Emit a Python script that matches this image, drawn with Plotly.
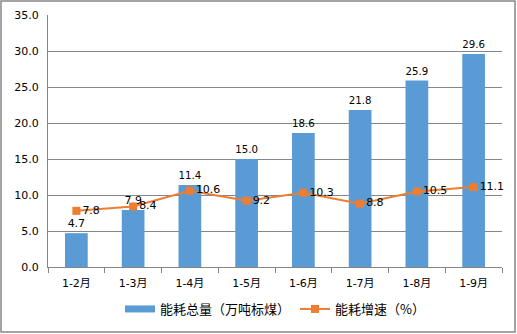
import plotly.graph_objects as go

categories = ["1-2月", "1-3月", "1-4月", "1-5月", "1-6月", "1-7月", "1-8月", "1-9月"]
total = [4.7, 7.9, 11.4, 15.0, 18.6, 21.8, 25.9, 29.6]
growth = [7.8, 8.4, 10.6, 9.2, 10.3, 8.8, 10.5, 11.1]
y_ticks = [0, 5, 10, 15, 20, 25, 30, 35]

FONT = "DejaVu Sans, Noto Sans CJK SC, sans-serif"
BLUE = "#5B9BD5"
ORANGE = "#ED7D31"

fig = go.Figure()
fig.add_trace(go.Bar(
    x=categories, y=total, name="能耗总量（万吨标煤）", showlegend=False,
    marker=dict(color=BLUE, line=dict(width=0)),
    text=[f"{v:.1f}" for v in total], textposition="outside",
    textfont=dict(size=11, color="#000000"), cliponaxis=False,
))
# legend-only entry to show a wide rectangular swatch for the bar series
fig.add_trace(go.Scatter(
    x=[None], y=[None], name="能耗总量（万吨标煤）", mode="lines",
    line=dict(color=BLUE, width=7), showlegend=True, hoverinfo="skip",
))
fig.add_trace(go.Scatter(
    x=categories, y=growth, name="能耗增速（%）", mode="lines+markers+text",
    line=dict(color=ORANGE, width=2),
    marker=dict(symbol="square", size=8, color=ORANGE),
    text=[f"{v:.1f}" for v in growth], textposition="middle right",
    textfont=dict(size=11, color="#000000"), cliponaxis=False,
))

fig.update_layout(
    width=517, height=334,
    margin=dict(l=48, r=15, t=15, b=67, autoexpand=False),
    paper_bgcolor="white", plot_bgcolor="white",
    font=dict(family=FONT, size=11, color="#000000"),
    bargap=0.6,
    showlegend=True,
    legend=dict(orientation="h", x=0.5, xanchor="center", y=-42/252, yanchor="middle",
                font=dict(size=13, family="Noto Sans CJK SC, sans-serif"),
                itemwidth=30, tracegroupgap=0),
    shapes=[dict(type="rect", xref="paper", yref="paper",
                 x0=-47/454, x1=1+13/454, y0=-65/252, y1=1+14/252,
                 line=dict(color="#868686", width=1.5))],
)
fig.update_yaxes(range=[0, 35], tickvals=y_ticks, ticktext=[f"{v:.1f}" for v in y_ticks],
                 showgrid=True, gridcolor="#868686", gridwidth=1,
                 showline=True, linecolor="#868686", ticks="", zeroline=False,
                 tickfont=dict(size=11), ticklabelstandoff=6)
fig.update_xaxes(showline=True, linecolor="#868686", ticks="outside", tickson="boundaries",
                 ticklen=5, tickcolor="#868686", tickfont=dict(size=11), ticklabelstandoff=6)

fig.write_html("out.html")
